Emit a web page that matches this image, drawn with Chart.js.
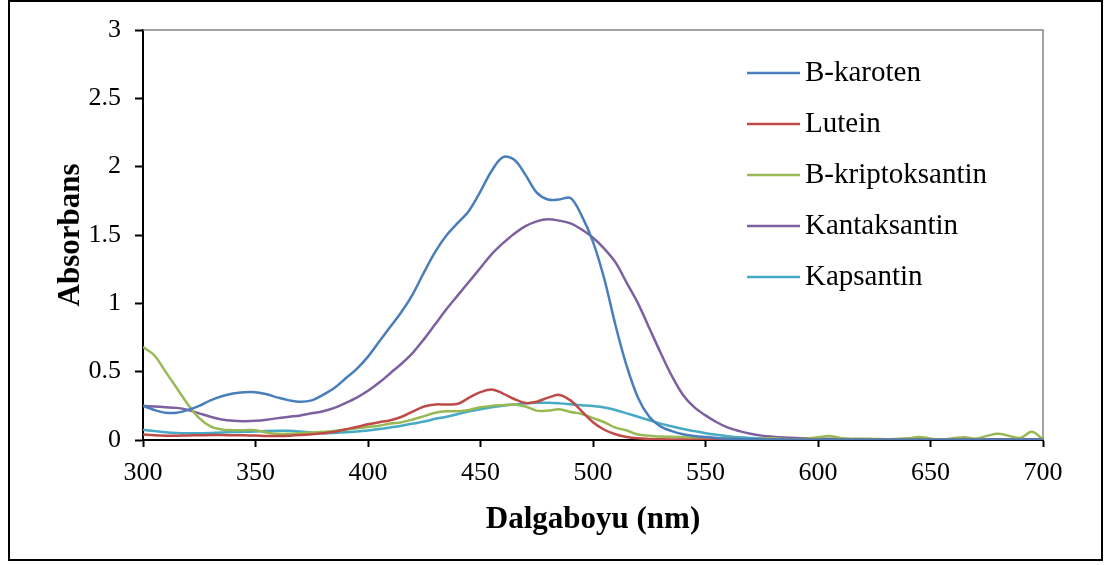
<!DOCTYPE html>
<html>
<head>
<meta charset="utf-8">
<script src="https://cdn.jsdelivr.net/npm/chart.js@4/dist/chart.umd.min.js"></script>
<style>
  html, body { margin: 0; padding: 0; background: #fff; }
  #wrap { width: 1105px; height: 565px; }
</style>
</head>
<body>
<div id="wrap"><canvas id="absChart" width="1105" height="565"></canvas></div>
<script>
// Dalga boyları (nm)
const wavelengths = [];
for (let w = 300; w <= 700; w += 5) wavelengths.push(w);

const seriesNames = ['B-karoten', 'Lutein', 'B-kriptoksantin', 'Kantaksantin', 'Kapsantin'];
const seriesColors = ['#4A7EBB', '#BE4B48', '#98B954', '#7D60A0', '#46AAC5'];

// okunan absorbans değerleri (300..700, 5 nm adım)
const bKaroten = [
  0.25, 0.22, 0.20, 0.20, 0.22, 0.25, 0.29, 0.32, 0.34, 0.35,
  0.35, 0.335, 0.31, 0.29, 0.28, 0.29, 0.33, 0.38, 0.45, 0.52,
  0.61, 0.72, 0.83, 0.94, 1.07, 1.23, 1.38, 1.50, 1.59, 1.68,
  1.82, 1.97, 2.07, 2.05, 1.94, 1.81, 1.76, 1.76, 1.77, 1.64,
  1.45, 1.18, 0.84, 0.54, 0.31, 0.17, 0.10, 0.065, 0.042, 0.03,
  0.022, 0.015, 0.01, 0.008, 0.005, 0.004, 0.003, 0.003, 0.002, 0.002,
  0.002, 0.002, 0.002, 0.002, 0.002, 0.002, 0.002, 0.002, 0.002, 0.002,
  0.002, 0.002, 0.002, 0.002, 0.002, 0.002, 0.002, 0.002, 0.002, 0.002,
  0.002
];
const lutein = [
  0.04, 0.035, 0.032, 0.032, 0.033, 0.035, 0.036, 0.036, 0.035, 0.034,
  0.033, 0.03, 0.03, 0.032, 0.036, 0.042, 0.05, 0.06, 0.078, 0.095,
  0.115, 0.13, 0.145, 0.17, 0.21, 0.245, 0.26, 0.26, 0.265, 0.31,
  0.35, 0.37, 0.34, 0.30, 0.27, 0.28, 0.31, 0.33, 0.29, 0.21,
  0.13, 0.075, 0.042, 0.022, 0.012, 0.008, 0.005, 0.004, 0.003, 0.002,
  0.002, 0.002, 0.002, 0.002, 0.002, 0.002, 0.002, 0.002, 0.002, 0.002,
  0.002, 0.002, 0.002, 0.002, 0.002, 0.002, 0.002, 0.002, 0.002, 0.002,
  0.002, 0.002, 0.002, 0.002, 0.002, 0.002, 0.002, 0.002, 0.002, 0.002,
  0.002
];
const bKriptoksantin = [
  0.68, 0.62, 0.50, 0.38, 0.26, 0.16, 0.10, 0.077, 0.072, 0.072,
  0.072, 0.055, 0.045, 0.045, 0.05, 0.055, 0.06, 0.066, 0.075, 0.085,
  0.095, 0.105, 0.12, 0.13, 0.15, 0.175, 0.20, 0.21, 0.21, 0.22,
  0.24, 0.25, 0.255, 0.26, 0.245, 0.215, 0.215, 0.225, 0.205, 0.19,
  0.16, 0.13, 0.09, 0.07, 0.04, 0.032, 0.025, 0.024, 0.02, 0.016,
  0.012, 0.01, 0.012, 0.008, 0.006, 0.01, 0.012, 0.008, 0.006, 0.01,
  0.02, 0.03, 0.015, 0.008, 0.01, 0.008, 0.006, 0.008, 0.012, 0.022,
  0.01, 0.006, 0.012, 0.02, 0.01, 0.03, 0.045, 0.03, 0.015, 0.06,
  0.005
];
const kantaksantin = [
  0.25, 0.245, 0.24, 0.235, 0.22, 0.195, 0.17, 0.15, 0.14, 0.138,
  0.14, 0.148, 0.16, 0.17, 0.18, 0.195, 0.21, 0.235, 0.27, 0.31,
  0.36, 0.42, 0.49, 0.56, 0.64, 0.74, 0.85, 0.96, 1.06, 1.16,
  1.26, 1.36, 1.44, 1.51, 1.565, 1.60, 1.615, 1.605, 1.585, 1.54,
  1.48, 1.40, 1.30, 1.15, 1.00, 0.82, 0.64, 0.47, 0.33, 0.24,
  0.18, 0.13, 0.09, 0.065, 0.045, 0.032, 0.024, 0.018, 0.014, 0.012,
  0.01, 0.008, 0.007, 0.006, 0.006, 0.005, 0.005, 0.005, 0.005, 0.005,
  0.005, 0.005, 0.005, 0.005, 0.005, 0.005, 0.005, 0.005, 0.005, 0.005,
  0.005
];
const kapsantin = [
  0.075, 0.065, 0.057, 0.052, 0.05, 0.05, 0.052, 0.055, 0.058, 0.06,
  0.062, 0.065, 0.067, 0.067, 0.062, 0.055, 0.05, 0.052, 0.056, 0.062,
  0.07, 0.08, 0.092, 0.105, 0.12, 0.135, 0.155, 0.17, 0.19, 0.21,
  0.225, 0.24, 0.25, 0.26, 0.268, 0.272, 0.272, 0.268, 0.262, 0.255,
  0.248, 0.238, 0.22, 0.195, 0.17, 0.145, 0.12, 0.10, 0.08, 0.065,
  0.05, 0.038, 0.028, 0.02, 0.015, 0.012, 0.01, 0.009, 0.008, 0.008,
  0.008, 0.007, 0.007, 0.007, 0.006, 0.006, 0.006, 0.006, 0.006, 0.006,
  0.006, 0.006, 0.006, 0.006, 0.006, 0.006, 0.006, 0.006, 0.006, 0.006,
  0.006
];

const yTicks = [0, 0.5, 1, 1.5, 2, 2.5, 3];
const allSeries = [bKaroten, lutein, bKriptoksantin, kantaksantin, kapsantin];

const serif = '"Liberation Serif", "Times New Roman", serif';

// çerçeve ve lejant için küçük eklenti
const framePlugin = {
  id: 'frame',
  afterDraw(chart) {
    const ctx = chart.ctx;
    const a = chart.chartArea;
    ctx.save();
    // grafik alanı üst ve sağ kenar (gri)
    ctx.strokeStyle = '#858585';
    ctx.lineWidth = 1.5;
    ctx.beginPath();
    ctx.moveTo(a.left, a.top);
    ctx.lineTo(a.right, a.top);
    ctx.lineTo(a.right, a.bottom);
    ctx.stroke();
    // dış çerçeve
    ctx.strokeStyle = '#000';
    ctx.lineWidth = 2;
    ctx.strokeRect(9, 1, 1093, 559);

    // lejant
    ctx.font = '29px ' + serif;
    ctx.textBaseline = 'middle';
    ctx.textAlign = 'left';
    chart.data.datasets.forEach((ds, i) => {
      const y = 73 + i * 51;
      ctx.strokeStyle = ds.borderColor;
      ctx.lineWidth = 2.5;
      ctx.beginPath();
      ctx.moveTo(747, y);
      ctx.lineTo(800, y);
      ctx.stroke();
      ctx.fillStyle = '#000';
      ctx.fillText(ds.label, 805, y);
    });
    ctx.restore();
  }
};

const ctx = document.getElementById('absChart').getContext('2d');
new Chart(ctx, {
  type: 'line',
  data: {
    datasets: seriesNames.map((name, i) => ({
      label: name,
      data: wavelengths.map((w, j) => ({ x: w, y: allSeries[i][j] })),
      borderColor: seriesColors[i],
      backgroundColor: seriesColors[i],
      borderWidth: 2.5,
      pointRadius: 0,
      tension: 0.35,
      fill: false
    }))
  },
  options: {
    responsive: false,
    animation: false,
    layout: { padding: { left: 0, top: 30, right: 62, bottom: 0 } },
    plugins: {
      legend: { display: false },
      tooltip: { enabled: false }
    },
    scales: {
      x: {
        type: 'linear',
        min: 300,
        max: 700,
        afterFit(scale) { scale.height = 125; },
        ticks: {
          stepSize: 50,
          color: '#000',
          padding: 11,
          font: { family: serif, size: 26 }
        },
        grid: { drawOnChartArea: false, tickLength: 7, color: '#000', tickWidth: 2 },
        border: { color: '#000', width: 2 },
        title: {
          display: true,
          text: 'Dalgaboyu (nm)',
          color: '#000',
          font: { family: serif, size: 31, weight: 'bold' },
          padding: { top: 0, bottom: 26 }
        }
      },
      y: {
        min: 0,
        max: 3,
        afterFit(scale) { scale.width = 143; },
        afterBuildTicks(scale) { scale.ticks = yTicks.map(v => ({ value: v })); },
        ticks: {
          color: '#000',
          padding: 14,
          font: { family: serif, size: 26 },
          callback: v => String(v)
        },
        grid: { drawOnChartArea: false, tickLength: 8, color: '#000', tickWidth: 2 },
        border: { color: '#000', width: 2 },
        title: {
          display: true,
          text: 'Absorbans',
          color: '#000',
          font: { family: serif, size: 31, weight: 'bold' },
          padding: { top: 52, bottom: 0 }
        }
      }
    }
  },
  plugins: [framePlugin]
});
</script>
</body>
</html>
